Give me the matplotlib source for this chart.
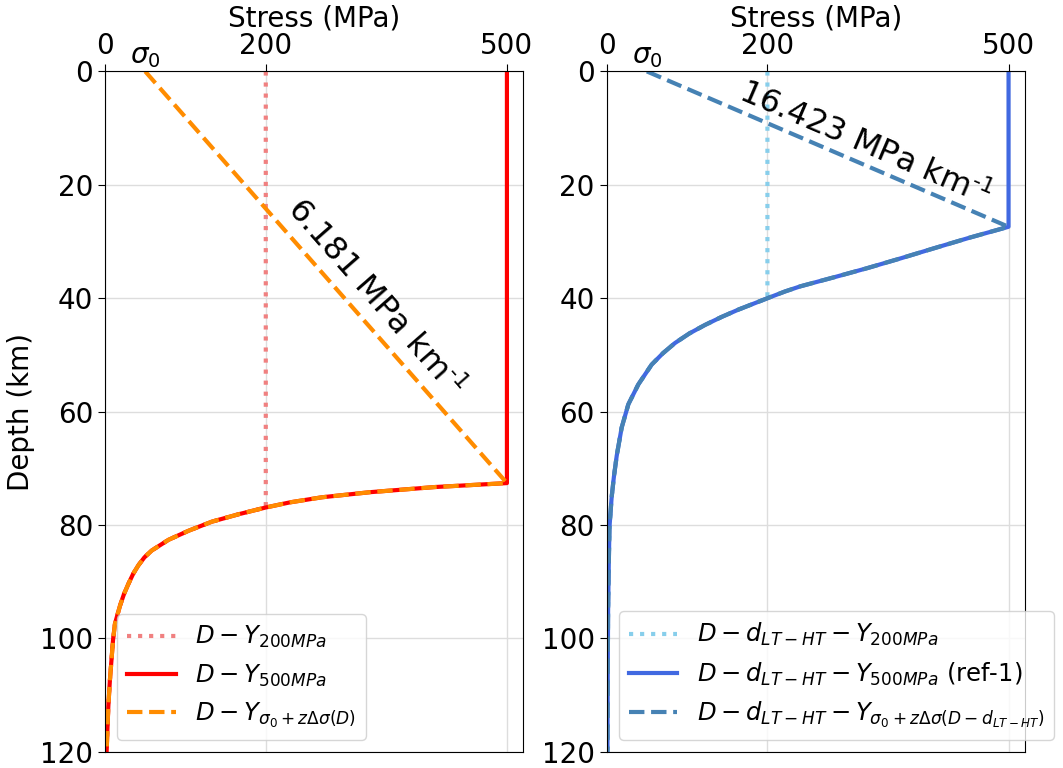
import matplotlib.pyplot as plt

sigma0 = 50
grad_left = 6.181
grad_right = 16.423

# ductile part of the yield envelope (depth km, stress MPa)
left_z = [72.6, 73.3, 74.2, 75.1, 76.0, 76.9, 78.1, 79.4, 81.0, 82.6, 84.5, 85.7, 87.1,
          88.6, 90.4, 92.2, 94.2, 95.8, 97.4, 100.2, 103.3, 107.5, 112.0, 116.0, 120.0]
left_s = [500, 410, 330, 270, 230, 200, 166, 133, 104, 79, 58, 49, 41.5,
          35, 29, 23.5, 18.7, 15.5, 12.4, 10, 8.3, 6, 4.1, 3, 2]

right_z = [27.4, 29.3, 31.2, 33.0, 34.7, 36.3, 37.9, 38.8, 40.0, 42.0, 43.3, 44.7, 46.2,
           47.9, 49.7, 51.7, 55.2, 58.7, 62.8, 67.8, 71.5, 75.1, 80.4, 88.0, 95.0,
           105.0, 120.0]
right_s = [500, 452, 407, 365, 324, 283, 241, 222, 200, 164, 143, 122.5, 103,
           85, 70, 56, 39.4, 27, 18.7, 12.5, 9, 6.2, 3.5, 2.5, 1.8,
           1.4, 1.0]


def plastic(z_list, s_list, cap):
    zz = [0]
    ss = [cap]
    for z, s in zip(z_list, s_list):
        if s <= cap:
            if len(zz) == 1:
                zz.append(z)
                ss.append(cap)
            zz.append(z)
            ss.append(s)
    return ss, zz


def graded(z_list, s_list):
    return [sigma0] + s_list, [0] + z_list


fig = plt.figure(figsize=(10.63, 7.68), dpi=100)
ax1 = fig.add_axes([0.0988, 0.021, 0.3932, 0.886])
ax2 = fig.add_axes([0.5707, 0.021, 0.3932, 0.886])

cfg = [
    (ax1, left_z, left_s, grad_left, ['lightcoral', 'red', 'darkorange'],
     [r'$D-Y_{200MPa}$', r'$D-Y_{500MPa}$', r'$D-Y_{\sigma_0+z\Delta\sigma(D)}$'],
     (336, 40, -48.8)),
    (ax2, right_z, right_s, grad_right, ['skyblue', 'royalblue', 'steelblue'],
     [r'$D-d_{LT-HT}-Y_{200MPa}$', r'$D-d_{LT-HT}-Y_{500MPa}$ (ref-1)',
      r'$D-d_{LT-HT}-Y_{\sigma_0+z\Delta\sigma(D-d_{LT-HT})}$'],
     (321, 12.9, -23.3)),
]

for ax, zs, ss, grad, cols, labs, txt in cfg:
    x, y = plastic(zs, ss, 200)
    ax.plot(x, y, ':', color=cols[0], lw=3, label=labs[0])
    x, y = plastic(zs, ss, 500)
    ax.plot(x, y, '-', color=cols[1], lw=3, label=labs[1])
    x, y = graded(zs, ss)
    ax.plot(x, y, '--', color=cols[2], lw=3, label=labs[2])

    ax.set_xlim(0, 520)
    ax.set_ylim(120, 0)
    ax.set_xticks([0, 200, 500])
    ax.set_yticks([0, 20, 40, 60, 80, 100, 120])
    ax.xaxis.tick_top()
    ax.xaxis.set_label_position('top')
    ax.set_xlabel('Stress (MPa)', fontsize=20, labelpad=4)
    ax.tick_params(labelsize=20, length=5)
    ax.grid(True, color='#dddddd', lw=1)
    ax.text(sigma0, -0.3, r'$\sigma_0$', ha='center', va='bottom', fontsize=20)
    ax.text(txt[0], txt[1], '%.3f MPa km$^\\text{-1}$' % grad, rotation=txt[2],
            ha='center', va='center', rotation_mode='anchor', fontsize=23)
    ax.legend(loc='lower left', fontsize=17.5)

ax1.set_ylabel('Depth (km)', fontsize=20)

fig.savefig('out.png', dpi=100)
